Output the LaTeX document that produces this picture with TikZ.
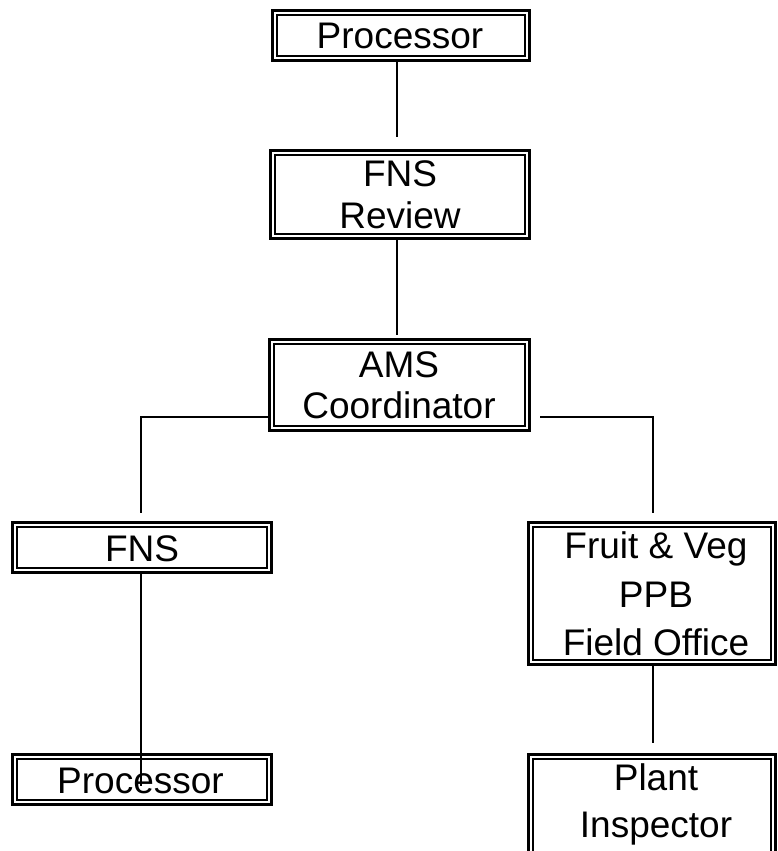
\documentclass[tikz,border=0pt]{standalone}
\usepackage{fontspec}
\setmainfont{Liberation Sans}
\begin{document}
\begin{tikzpicture}[x=1pt,y=-1pt,
  box/.style={draw=black, line width=2.8pt, rectangle, inner sep=0pt, outer sep=0pt},
  inframe/.style={draw=black, line width=1.6pt},
  link/.style={draw=black, line width=1.8pt},
  lbl/.style={align=center, inner sep=0pt, anchor=base, font=\fontsize{37}{43}\selectfont}]
\useasboundingbox (0,0) rectangle (777,851);
\clip (0,0) rectangle (777,851);
% boxes
\node[box, minimum width=257pt, minimum height=50pt] (b1) at (401,35.5) {};
\node[box, minimum width=259pt, minimum height=88pt] (b2) at (400,194.5) {};
\node[box, minimum width=260pt, minimum height=91pt] (b3) at (399.5,385) {};
\node[box, minimum width=259pt, minimum height=50pt] (b4) at (142,547.5) {};
\node[box, minimum width=247pt, minimum height=142pt] (b5) at (652,593.5) {};
\node[box, minimum width=259pt, minimum height=50pt] (b7) at (142,779.5) {};
\node[box, minimum width=247pt, minimum height=144pt] (b6) at (652,826.5) {};
\foreach \n in {b1,b2,b3,b4,b5,b6,b7}
  \draw[inframe] ([shift={(4.5,4.5)}]\n.north west) rectangle ([shift={(-4.5,-4.5)}]\n.south east);
% texts (anchor = baseline of last line)
\node[lbl] (t1) at (400,48.5) {Processor};
\node[lbl, font=\fontsize{37}{42}\selectfont] (t2) at (400,228) {FNS\\Review};
\node[lbl, font=\fontsize{37}{41}\selectfont] (t3) at (399,418) {AMS\\Coordinator};
\node[lbl] (t4) at (142,561.5) {FNS};
\node[lbl, font=\fontsize{37}{48.5}\selectfont] (t5) at (656,655.5) {Fruit \& Veg\\PPB\\Field Office};
\node[lbl] (t7) at (140.5,793) {Processor};
\node[lbl, font=\fontsize{37}{47}\selectfont] (t6) at (656,837) {Plant\\Inspector};
% connectors
\coordinate (c12) at (397,137);
\coordinate (c23) at (397,335);
\coordinate (l1) at (141,417);
\coordinate (l2) at (141,513);
\coordinate (r0) at (540,417);
\coordinate (r1) at (653,417);
\coordinate (r2) at (653,513);
\coordinate (p1) at (141,786);
\coordinate (q1) at (653,743);
\draw[link] (b1.south -| c12) -- (c12);
\draw[link] (b2.south -| c23) -- (c23);
\draw[link] (b3.west |- l1) -- (l1) -- (l2);
\draw[link] (r0) -- (r1) -- (r2);
\draw[link] (b4.south -| p1) -- (p1);
\draw[link] (b5.south -| q1) -- (q1);
\end{tikzpicture}
\end{document}
